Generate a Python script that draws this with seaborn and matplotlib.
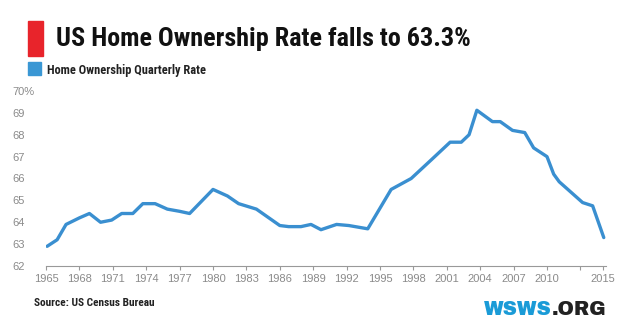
import matplotlib
matplotlib.use("Agg")
import matplotlib.pyplot as plt
import matplotlib.patches as mpatches
import seaborn as sns
import pandas as pd

sns.set_theme(style="white")

years = [1965.1, 1966.0, 1966.8, 1968.0, 1968.9, 1969.9, 1970.9, 1971.8, 1972.8, 1973.7,
         1974.8, 1975.9, 1977.0, 1977.9, 1980.0, 1981.3, 1982.3, 1983.9, 1986.0, 1986.8,
         1987.9, 1988.8, 1989.7, 1991.1, 1992.2, 1993.9, 1996.0, 1997.8, 1999.6, 2001.3,
         2002.3, 2003.0, 2003.7, 2005.1, 2005.8, 2006.9, 2008.0, 2008.8, 2010.0, 2010.6,
         2011.1, 2013.2, 2014.1, 2015.1]
rates = [62.9, 63.2, 63.9, 64.2, 64.4, 64.0, 64.1, 64.4, 64.4, 64.85,
         64.85, 64.6, 64.5, 64.4, 65.5, 65.2, 64.85, 64.6, 63.85, 63.8,
         63.8, 63.9, 63.66, 63.9, 63.85, 63.7, 65.5, 66.0, 66.85, 67.66,
         67.66, 68.0, 69.12, 68.6, 68.6, 68.2, 68.1, 67.4, 67.0, 66.2,
         65.85, 64.9, 64.75, 63.3]
xticks = [1965, 1968, 1971, 1974, 1977, 1980, 1983, 1986, 1989, 1992, 1995, 1998, 2001, 2004, 2007, 2010, 2013, 2015]
xticklabels = ["1965", "1968", "1971", "1974", "1977", "1980", "1983", "1986", "1989", "1992",
               "1995", "1998", "2001", "2004", "2007", "2010", "", "2015"]
yticks = [62, 63, 64, 65, 66, 67, 68, 69, 70]
yticklabels = ["62", "63", "64", "65", "66", "67", "68", "69", "70%"]

df = pd.DataFrame({"year": years, "rate": rates})

W, H = 640, 324
fig = plt.figure(figsize=(6.4, 3.24), dpi=100)
ax = fig.add_axes([46/W, 1-266/H, 560/W, 175/H])
sns.lineplot(data=df, x="year", y="rate", ax=ax, color="#3a8fd0", linewidth=2.4)
ax.set_xlim(1965, 2015.3)
ax.set_ylim(62, 70)
ax.set_xlabel("")
ax.set_ylabel("")
for s in ["top", "right", "left"]:
    ax.spines[s].set_visible(False)
ax.spines["bottom"].set_color("#999999")
ax.spines["bottom"].set_linewidth(0.8)
ax.set_xticks(xticks)
ax.set_xticklabels(xticklabels, color="#8a8a8a", fontsize=8, family="Liberation Sans")
ax.tick_params(axis="x", bottom=True, length=3, width=0.8, color="#999999", pad=2.5)
ax.set_yticks(yticks)
ax.set_yticklabels(yticklabels, color="#8a8a8a", fontsize=8, ha="left", family="Liberation Sans")
ax.tick_params(axis="y", left=False, pad=18)

fig.canvas.draw()
renderer = fig.canvas.get_renderer()


def fit_text(x, y, s, width, **kw):
    t = fig.text(x/W, 1-y/H, s, **kw)
    fs = t.get_fontsize()
    w = t.get_window_extent(renderer).width
    t.set_fontsize(fs * width / w)
    return t


fig.patches.append(mpatches.Rectangle((28/W, 1-55.5/H), 15/W, 34.5/H,
                                      transform=fig.transFigure, color="#e8242b"))
fit_text(56, 46, "US Home Ownership Rate falls to 63.3%", 415, fontsize=20,
         fontweight="bold", family="Roboto Condensed", va="baseline", ha="left", color="#111111")
fig.patches.append(mpatches.Rectangle((28.3/W, 1-75/H), 12.4/W, 13.5/H,
                                      transform=fig.transFigure, color="#3a97d4"))
fit_text(46.7, 74.3, "Home Ownership Quarterly Rate", 159, fontsize=9,
         fontweight="bold", family="Roboto Condensed", va="baseline", ha="left", color="#222222")
fit_text(34.3, 306, "Source: US Census Bureau", 121, fontsize=8, fontweight="bold",
         family="Roboto Condensed", va="baseline", ha="left", color="#222222")

t1 = fig.text(484/W, 1-315/H, "WSWS", fontsize=14, family="Archivo Black",
              va="baseline", ha="left", color="#1a9bd7")
t2 = fig.text(0, 1-315/H, ".ORG", fontsize=14, family="Archivo Black",
              va="baseline", ha="left", color="#222222")
w_total = t1.get_window_extent(renderer).width + t2.get_window_extent(renderer).width
scale = 123 / w_total
t1.set_fontsize(14 * scale)
t2.set_fontsize(14 * scale)
fig.canvas.draw()
bb = t1.get_window_extent(renderer)
t2.set_x(bb.x1 / W)

fig.savefig("out.png", dpi=100)
